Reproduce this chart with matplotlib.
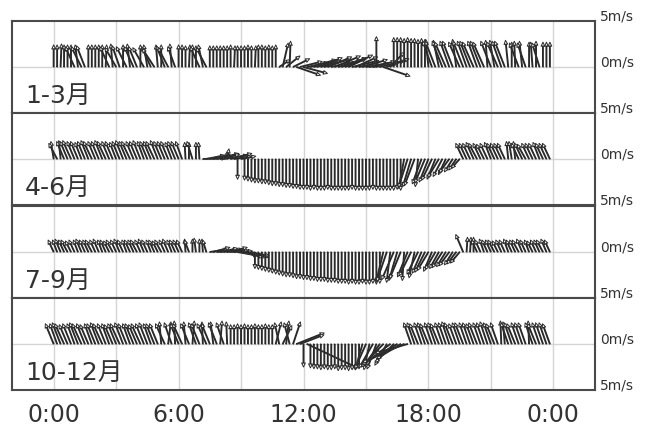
import numpy as np
import matplotlib
matplotlib.use('Agg')
import matplotlib.pyplot as plt
import matplotlib.transforms as mtransforms

# 10-minute wind vectors (u: east, v: north, m/s), 144 per day
P1_U = [
    0, 0, 0.1, 0, 0, 0, -1.0, -0.3, -1.1, -0.9, 0, 0,
    0, 0, 0, 0.1, -1.0, -0.2, -1.2, -0.8, 0, -1.1, -0.3, -1.0,
    -0.9, 0, -1.2, -0.4, -1.0, -1.3, -0.2, 0, -0.9, -1.1, -0.2, -0.8,
    0, 0, 0, 0.1, 0, 0, -1.0, -0.5, -1.1, 0, 0, 0,
    0, 0, 0, 0, 0.1, 0, 0, 0, 0, 0, 0.1, 0,
    0, 0, 0, 0, 0, 1.2, 0.6, 1.5, 0.1, 1.8, 2.6, 2.4,
    2.6, 2.3, 2.8, 2.5, 2.7, 2.2, 2.9, 2.6, 2.4, 2.8, 2.5, 2.7,
    2.3, 2.6, 2.9, 2.4, 2.2, 2.7, 2.5, 2.8, 2.6, 0.0, 2.7, 2.9,
    2.4, 1.5, 0, 0, 0, 0, 0, 0, 0, 0, 0, 0,
    -0.3, -1.0, -1.1, -0.6, -1.1, -1.2, -1.0, -1.1, -0.4, -1.2, -1.1, -1.0,
    -1.1, -1.2, -1.0, -1.1, -1.2, -0.2, -1.1, -0.5, -1.2, -1.0, -1.1, -0.3,
    0, -0.1, -1.0, -0.3, -0.9, 0, -0.2, 0, -0.8, 0, 0, 0,
]
P1_V = [
    2.4, 2.4, 2.5, 2.4, 2.4, 2.4, 2.2, 2.4, 2.2, 2.3, 2.4, 2.4,
    2.4, 2.4, 2.4, 2.4, 2.2, 2.5, 2.1, 2.3, 2.4, 2.2, 2.5, 2.2,
    2.2, 2.4, 2.1, 2.4, 2.2, 2.0, 2.4, 2.4, 2.3, 2.1, 2.5, 2.2,
    2.4, 2.4, 2.3, 2.4, 2.4, 2.3, 2.2, 2.4, 2.1, 2.3, 2.3, 2.3,
    2.3, 2.3, 2.3, 2.4, 2.3, 2.3, 2.3, 2.3, 2.4, 2.3, 2.3, 2.4,
    2.4, 2.3, 2.4, 2.3, 2.4, 0.8, 2.6, 1.2, 2.8, 0.9, -0.9, 0.6,
    -0.7, 0.5, 0.8, 0.6, 1.0, 0.7, 0.9, 1.1, 0.6, 1.2, 0.8, 1.0,
    0.9, 1.3, 0.7, 1.1, 0.5, 0.8, 0.4, 0.6, 0.3, 3.3, 0.7, -1.0,
    0.9, 1.6, 3.2, 3.2, 3.2, 3.1, 3.2, 3.1, 3.1, 3.0, 3.1, 3.0,
    3.0, 2.8, 2.8, 2.9, 2.8, 2.7, 2.8, 2.8, 3.0, 2.7, 2.8, 2.8,
    2.8, 2.7, 2.8, 2.8, 2.7, 2.9, 2.8, 2.9, 2.7, 2.8, 2.8, 2.9,
    2.7, 2.8, 2.6, 2.8, 2.6, 2.7, 2.7, 2.8, 2.6, 2.7, 2.7, 2.7,
]

P2_U = [
    -0.3, -0.9, -0.2, -0.8, -0.8, -0.9, -0.8, -0.8, -0.7, -0.8, -0.8, -0.9,
    -0.8, -0.8, -0.8, -0.9, -0.8, -0.8, -0.7, -0.8, -0.8, -0.8, -0.9, -0.8,
    -0.8, -0.8, -0.7, -0.8, -0.8, -0.9, -0.8, -0.8, -0.8, -0.8, -0.7, -0.8,
    -0.8, -0.7, -0.1, 0, -0.6, 0, -0.1, 2.5, 2.0, 2.2, 1.8, 2.4,
    2.1, 2.6, 0.2, 2.3, 1.9, 0, 1.6, 0, 0, 0, 0, 0,
    0, 0, 0, 0, 0, 0, 0, 0, 0, 0, 0, 0,
    0, 0, 0, 0, 0, 0, 0, 0, 0, 0, 0, 0,
    0, 0, 0, 0, 0, 0, 0, 0, 0, 0, 0, 0,
    0, 0, 0, 0, 0, -0.6, -1.0, -0.9, -1.1, -0.3, -1.0, -1.1,
    -1.0, -1.1, -0.9, -1.2, -1.0, -0.8, -1.1, -0.9, -0.8, -0.9, -0.8, -0.8,
    -0.8, -0.8, -0.9, -0.8, -0.8, -0.8, -0.7, -0.8, -0.8, -0.8, -0.8, -0.2,
    -0.3, -0.2, -0.8, -0.8, -0.9, -0.8, -0.8, -0.8, -0.7, -0.8, -0.8, -0.8,
]
P2_V = [
    1.9, 1.7, 2.0, 1.9, 1.9, 2.0, 1.9, 1.9, 1.8, 1.9, 2.0, 1.9,
    1.9, 1.9, 2.0, 1.9, 1.9, 1.9, 1.8, 1.9, 2.0, 1.9, 1.9, 1.9,
    1.9, 2.0, 1.9, 1.9, 1.9, 1.9, 2.0, 1.9, 1.9, 1.9, 1.8, 1.9,
    1.9, 1.9, 1.8, 1.8, 1.9, 1.8, 1.8, 0.1, 0.4, 0.5, 0.3, 0.6,
    0.5, 0.4, 1.1, 0.6, 0.3, -2.2, 0.3, -2.3, -2.4, -2.5, -2.6, -2.6,
    -2.7, -2.7, -2.8, -2.9, -2.9, -3.0, -3.0, -3.1, -3.1, -3.2, -3.2, -3.3,
    -3.3, -3.3, -3.4, -3.3, -3.4, -3.4, -3.4, -3.3, -3.4, -3.4, -3.4, -3.4,
    -3.4, -3.4, -3.3, -3.4, -3.4, -3.4, -3.4, -3.4, -3.3, -3.4, -3.4, -3.4,
    -3.4, -3.4, -3.4, -3.3, -3.4, -3.2, -3.1, -3.0, -2.9, -3.0, -2.7, -2.6,
    -2.5, -2.3, -2.2, -2.0, -1.9, -1.7, -1.5, -1.4, -1.2, -1.0, 1.7, 1.7,
    1.7, 1.8, 1.7, 1.7, 1.6, 1.7, 1.8, 1.7, 1.7, 1.7, 1.7, 1.9,
    1.9, 1.9, 1.7, 1.7, 1.6, 1.7, 1.7, 1.7, 1.8, 1.7, 1.7, 1.7,
]

P3_U = [
    -0.6, -0.5, -0.6, -0.6, -0.7, -0.6, -0.6, -0.5, -0.6, -0.6, -0.6, -0.7,
    -0.6, -0.6, -0.5, -0.6, -0.6, -0.7, -0.6, -0.6, -0.6, -0.5, -0.6, -0.6,
    -0.7, -0.6, -0.6, -0.6, -0.5, -0.6, -0.6, -0.7, -0.6, -0.6, -0.5, -0.6,
    -0.6, -0.6, -0.1, -0.5, 0, -0.2, 0, -0.1, -0.4, 2.0, 1.8, 2.2,
    1.9, 2.1, 2.3, 1.8, 2.0, 2.2, 2.4, 2.0, 2.3, 1.8, 0, 0,
    0, 0, 0, 0, 0, 0, 0, 0, 0, 0, 0, 0,
    0, 0, 0, 0, 0, 0, 0, 0, 0, 0, 0, 0,
    0, 0, 0, 0, 0, 0, 0, 0, 0, 0, 0, -0.8,
    -1.1, -0.4, -1.3, -0.9, -1.2, -0.2, -1.1, -1.3, -0.6, -1.2, -1.0, -1.1,
    -1.2, -0.9, -1.1, -1.0, -1.1, -1.0, -1.1, -0.9, -1.0, -1.0, -0.8, 0.1,
    0.1, 0.0, -0.6, -0.6, -0.5, -0.6, -0.6, -0.7, -0.6, -0.6, -0.6, -0.5,
    -0.6, -0.6, -0.7, -0.6, -0.6, -0.5, -0.6, -0.6, -0.6, -0.7, -0.6, -0.6,
]
P3_V = [
    1.3, 1.3, 1.4, 1.3, 1.3, 1.2, 1.3, 1.3, 1.4, 1.3, 1.3, 1.3,
    1.3, 1.4, 1.3, 1.3, 1.2, 1.3, 1.3, 1.4, 1.3, 1.3, 1.3, 1.3,
    1.3, 1.3, 1.4, 1.3, 1.3, 1.3, 1.2, 1.3, 1.3, 1.4, 1.3, 1.3,
    1.3, 1.3, 1.4, 1.3, 1.4, 1.5, 1.4, 1.4, 1.3, 0.3, 0.5, 0.2,
    0.4, 0.3, 0.2, 0.5, 0.1, -0.4, -0.5, -0.6, -0.4, -0.6, -1.8, -1.9,
    -2.0, -2.1, -2.2, -2.3, -2.4, -2.5, -2.6, -2.7, -2.7, -2.8, -2.9, -2.9,
    -3.0, -3.0, -3.1, -3.1, -3.2, -3.2, -3.2, -3.3, -3.3, -3.3, -3.4, -3.4,
    -3.4, -3.5, -3.4, -3.5, -3.5, -3.4, -3.5, -3.5, -3.4, -3.5, -3.4, -3.3,
    -3.2, -3.3, -3.0, -3.1, -2.9, -3.1, -2.7, -2.6, -2.8, -2.4, -2.3, -2.2,
    -2.0, -2.1, -1.9, -1.8, -1.7, -1.6, -1.5, -1.4, -1.3, -1.2, 1.9, 1.6,
    1.6, 1.6, 1.3, 1.3, 1.4, 1.3, 1.3, 1.3, 1.2, 1.3, 1.3, 1.4,
    1.3, 1.3, 1.3, 1.4, 1.3, 1.3, 1.2, 1.3, 1.3, 1.3, 1.4, 1.3,
]

P4_U = [
    -0.9, -0.8, -0.9, -1.0, -0.9, -0.9, -0.8, -0.9, -1.0, -0.9, -0.9, -0.8,
    -0.9, -0.9, -1.0, -0.9, -0.8, -0.9, -0.9, -1.0, -0.9, -0.9, -0.8, -0.9,
    -0.9, -1.0, -0.9, -0.9, -0.8, -0.9, -0.9, -0.2, -1.0, 0.3, -0.8, -0.1,
    -0.9, -1.0, -0.2, -0.9, 0.2, -0.8, -0.9, -0.1, -1.0, -0.9, -0.3, -0.9,
    0.2, -0.8, -0.1, 0, 0, 0, 0, 0, 0, 0, 0, 0,
    0, 0, 0, 0, 0.6, -0.5, 1.0, 0.3, -0.6, 0.8, 3.0, 2.6,
    0, 5.5, 0, 0, 0, 0, 0, 0, 0, 0, 0, 0,
    0, 0, 0, 0, 0, -0.8, -1.2, -0.6, -1.5, -1.0, -1.8, -2.4,
    -1.3, -3.0, -2.0, -3.8, -2.6, -4.5, -3.5, -0.8, -0.8, -0.9, -0.8, -0.8,
    -0.9, -0.8, -0.8, -0.9, -0.8, -0.8, -0.8, -0.9, -0.8, -0.8, -0.9, -0.8,
    -0.8, -0.8, -0.9, -0.8, -0.8, -0.8, -0.8, -0.9, -0.8, -0.1, -0.2, -0.8,
    -0.8, -0.9, -0.8, -0.8, -0.8, -0.1, -0.8, -0.9, -0.8, -0.8, -0.8, -0.8,
]
P4_V = [
    2.2, 2.2, 2.3, 2.2, 2.1, 2.2, 2.2, 2.3, 2.2, 2.2, 2.1, 2.2,
    2.2, 2.3, 2.2, 2.2, 2.2, 2.1, 2.2, 2.2, 2.3, 2.2, 2.2, 2.2,
    2.1, 2.2, 2.2, 2.3, 2.2, 2.2, 2.2, 2.4, 2.2, 2.4, 2.3, 2.5,
    2.2, 2.2, 2.4, 2.2, 2.5, 2.3, 2.2, 2.4, 2.2, 2.2, 2.4, 2.3,
    2.5, 2.3, 2.4, 2.1, 2.1, 2.2, 2.1, 2.2, 2.1, 2.1, 2.2, 2.1,
    2.1, 2.2, 2.1, 2.1, 2.4, 2.3, 2.0, 2.5, 2.3, 2.4, 1.2, 1.0,
    -2.5, -2.6, -2.6, -2.7, -2.7, -2.8, -2.7, -2.8, -2.8, -2.7, -2.9, -2.8,
    -2.8, -2.9, -2.8, -2.8, -2.7, -2.8, -2.7, -2.8, -2.6, -2.7, -2.4, -2.5,
    -2.3, -2.3, -2.0, -2.2, -1.6, -2.0, -1.0, 2.3, 2.3, 2.2, 2.3, 2.3,
    2.2, 2.3, 2.3, 2.2, 2.3, 2.3, 2.4, 2.3, 2.2, 2.3, 2.3, 2.3,
    2.3, 2.2, 2.3, 2.3, 2.3, 2.4, 2.3, 2.2, 2.3, 2.5, 2.4, 2.3,
    2.3, 2.2, 2.3, 2.3, 2.3, 2.5, 2.3, 2.2, 2.3, 2.3, 2.3, 2.2,
]

SEASONS = ['1-3月', '4-6月', '7-9月', '10-12月']
SERIES = [(P1_U, P1_V), (P2_U, P2_V), (P3_U, P3_V), (P4_U, P4_V)]
XTICKS = [0, 6, 12, 18, 24]
XLABELS = ['0:00', '6:00', '12:00', '18:00', '0:00']

times = np.arange(144) / 6.0

W, H = 651, 426
fig = plt.figure(figsize=(W / 100, H / 100), dpi=100)
fig.patch.set_facecolor('white')

left, right = 12, 595
panel_tops = [21, 113, 206, 298]
panel_h = 92
txt = '#333333'
label_fam = ['DejaVu Sans', 'Noto Sans CJK JP']

for k, (name, (u, v)) in enumerate(zip(SEASONS, SERIES)):
    top = panel_tops[k]
    ax = fig.add_axes([left / W, 1 - (top + panel_h) / H, (right - left) / W, panel_h / H])
    ax.set_xlim(-2, 26)
    ax.set_ylim(-5, 5)
    for h in range(0, 25, 3):
        ax.axvline(h, color='#d4d4d4', lw=1.0, zorder=0)
    ax.axhline(0, color='#d4d4d4', lw=1.0, zorder=0)

    ax.quiver(times, np.zeros(len(times)), u, v, angles='uv', scale_units='y', scale=1,
              width=0.0016, headwidth=4.0, headlength=4.4, headaxislength=4.0,
              facecolor='white', edgecolor='#2a2a2a', linewidth=0.7, zorder=3)

    ax.set_yticks([])
    for s in ax.spines.values():
        s.set_color('#4a4a4a')
        s.set_linewidth(1.5)

    trans = mtransforms.blended_transform_factory(ax.transAxes, ax.transData)
    ylabs = [(5, '5m/s'), (0, '0m/s'), (-5, '5m/s')] if k == 0 else [(0, '0m/s'), (-5, '5m/s')]
    for yv, s in ylabs:
        ax.text(1.009, yv + 0.45, s, transform=trans, ha='left', va='center',
                fontsize=10, color=txt, clip_on=False)

    ax.text(0.022, 0.06, name, transform=ax.transAxes, ha='left', va='bottom',
            fontsize=18, color=txt, family=label_fam)

    if k == 3:
        ax.set_xticks(XTICKS)
        ax.set_xticklabels(XLABELS, fontsize=17, color=txt)
        ax.tick_params(axis='x', length=0, pad=9)
    else:
        ax.set_xticks([])

fig.savefig('out.png', dpi=100, facecolor='white')
